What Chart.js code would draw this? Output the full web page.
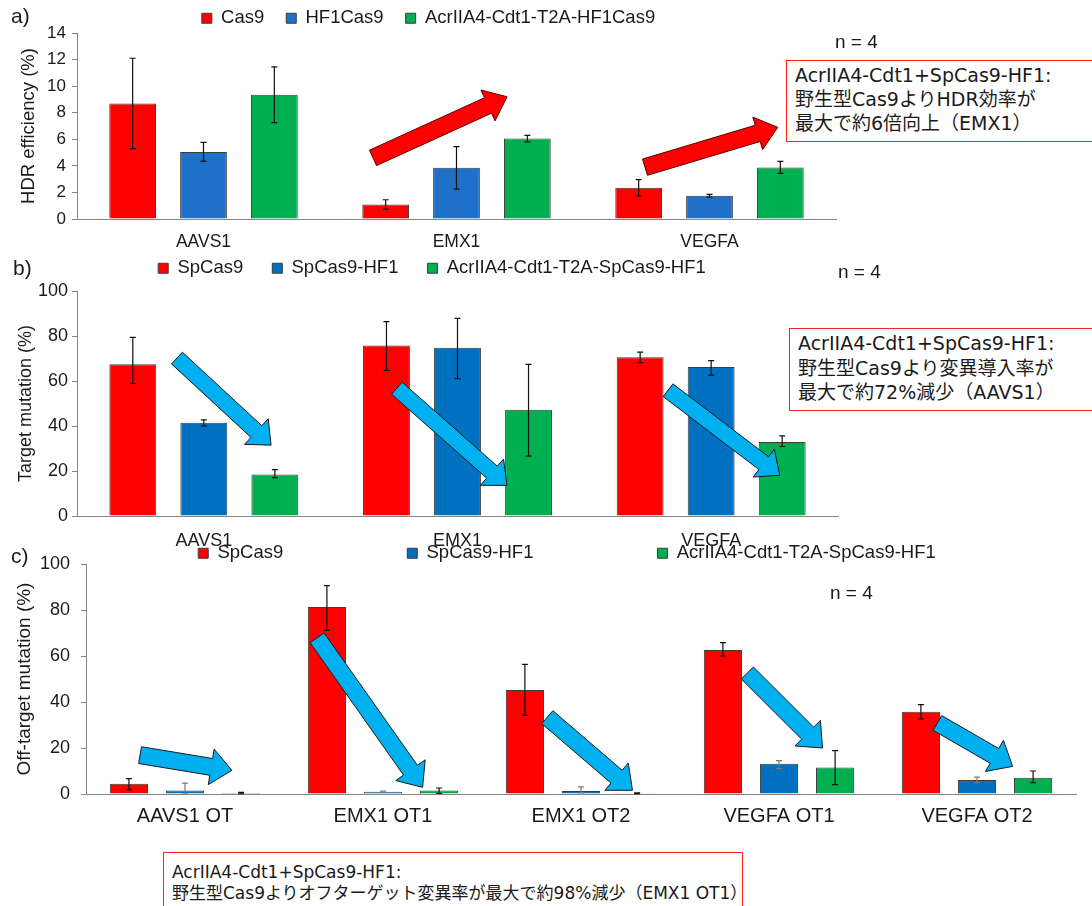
<!DOCTYPE html>
<html><head><meta charset="utf-8">
<script src="https://cdn.jsdelivr.net/npm/chart.js@4.4.1/dist/chart.umd.min.js"></script>
<style>
html,body{margin:0;padding:0;background:#fff;overflow:hidden;}
#wrap{position:relative;width:1092px;height:906px;overflow:hidden;background:#fff;}
canvas{position:absolute;left:0;}
.lbl{position:absolute;font-family:"Liberation Sans",Arial,sans-serif;color:#1a1a1a;white-space:nowrap;}
.box{position:absolute;border:1.5px solid #ff2020;background:#fff;font-family:"DejaVu Sans","Noto Sans CJK JP",sans-serif;color:#1a1a1a;white-space:nowrap;box-sizing:border-box;}
</style></head>
<body><div id="wrap">
<canvas id="ca" width="857" height="272" style="top:-13px"></canvas>
<canvas id="cb" width="864" height="326" style="top:230px"></canvas>
<canvas id="cc" width="1134" height="416" style="top:420px"></canvas>
<div class="lbl" style="left:11px;top:4px;font-size:21px">a)</div>
<div class="lbl" style="left:13px;top:256px;font-size:21px">b)</div>
<div class="lbl" style="left:11px;top:544px;font-size:21px">c)</div>
<div class="lbl" style="left:835px;top:31px;font-size:19px">n = 4</div>
<div class="lbl" style="left:838px;top:261px;font-size:19px">n = 4</div>
<div class="lbl" style="left:830px;top:582px;font-size:19px">n = 4</div>
<div class="box" style="left:786px;top:60px;width:330px;height:82px;font-size:19px;line-height:24px;padding:2px 0 0 8px">AcrIIA4-Cdt1+SpCas9-HF1:<br>野生型Cas9よりHDR効率が<br>最大で約6倍向上（EMX1）</div>
<div class="box" style="left:789px;top:328px;width:330px;height:83px;font-size:19px;line-height:24.5px;padding:2px 0 0 8px">AcrIIA4-Cdt1+SpCas9-HF1:<br>野生型Cas9より変異導入率が<br>最大で約72%減少（AAVS1）</div>
<div class="box" style="left:163px;top:852px;width:580px;height:80px;font-size:17px;line-height:21px;padding:9px 0 0 8px">AcrIIA4-Cdt1+SpCas9-HF1:<br>野生型Cas9よりオフターゲット変異率が最大で約98%減少（EMX1 OT1）</div>
</div>
<script>
// ---------- data ----------
const catsA = ['AAVS1', 'EMX1', 'VEGFA'];
const namesA = ['Cas9', 'HF1Cas9', 'AcrIIA4-Cdt1-T2A-HF1Cas9'];
const aCas9 = [8.7, 1.1, 2.35];
const aCas9Err = [3.4, 0.35, 0.62];
const aHF1 = [5.05, 3.85, 1.75];
const aHF1Err = [0.72, 1.6, 0.1];
const aAcr = [9.35, 6.05, 3.88];
const aAcrErr = [2.1, 0.25, 0.45];
const ticksA = {min: 0, max: 14, step: 2};

const catsB = ['AAVS1', 'EMX1', 'VEGFA'];
const namesB = ['SpCas9', 'SpCas9-HF1', 'AcrIIA4-Cdt1-T2A-SpCas9-HF1'];
const bSp = [67.4, 75.8, 70.6];
const bSpPlus = [12.0, 10.6, 2.2];
const bSpMinus = [8.5, 11.1, 2.4];
const bHF1 = [41.5, 74.8, 66.2];
const bHF1Plus = [1.2, 13.0, 2.9];
const bHF1Minus = [1.4, 13.7, 3.6];
const bAcr = [18.4, 47.2, 32.9];
const bAcrPlus = [2.2, 20.2, 2.7];
const bAcrMinus = [1.3, 20.6, 2.0];
const ticksB = {min: 0, max: 100, step: 20};

const catsC = ['AAVS1 OT', 'EMX1 OT1', 'EMX1 OT2', 'VEGFA OT1', 'VEGFA OT2'];
const namesC = ['SpCas9', 'SpCas9-HF1', 'AcrIIA4-Cdt1-T2A-SpCas9-HF1'];
const cSp = [4.5, 81.3, 45.2, 62.6, 35.8];
const cSpPlus = [2.2, 9.3, 11.2, 3.2, 3.1];
const cSpMinus = [2.6, 10.2, 11.0, 2.6, 3.2];
const cHF1 = [1.5, 1.0, 1.3, 13.1, 6.1];
const cHF1Plus = [3.2, 0.3, 1.8, 1.4, 1.2];
const cHF1Minus = [1.5, 0.3, 0.8, 2.1, 1.2];
const cAcr = [0.4, 1.5, 0.3, 11.5, 7.1];
const cAcrPlus = [0.3, 1.1, 0.2, 7.4, 2.9];
const cAcrMinus = [0.3, 1.2, 0.2, 7.4, 2.2];
const ticksC = {min: 0, max: 100, step: 20};

// arrows: [fromCategoryIndex, fromValue, toCategoryIndex, toValue]
const arrowsA = [[0.67, 4.6, 1.2, 9.2], [1.745, 3.9, 2.27, 6.9]];
const arrowsB = [[-0.106, 70.2, 0.265, 31.5], [0.761, 56.8, 1.195, 13.6], [1.83, 55.9, 2.27, 18.1]];
const arrowsC = [[-0.227, 16.9, 0.237, 10.3], [0.667, 67.9, 1.2, 2.9], [1.83, 33.4, 2.26, 1.6], [2.84, 52.6, 3.22, 20.0], [3.80, 30.9, 4.18, 12.0]];

// ---------- plugins ----------
const errorBars = {
  id: 'errorBars',
  afterDatasetsDraw(chart) {
    const ctx = chart.ctx, ys = chart.scales.y;
    chart.data.datasets.forEach((ds, di) => {
      if (!ds.errPlus) return;
      const meta = chart.getDatasetMeta(di);
      meta.data.forEach((bar, i) => {
        const v = ds.data[i];
        const yt = ys.getPixelForValue(v + ds.errPlus[i]);
        const yb = ys.getPixelForValue(Math.max(0, v - ds.errMinus[i]));
        ctx.save();
        ctx.strokeStyle = ds.errColor || '#111'; ctx.lineWidth = 1.2;
        ctx.beginPath();
        ctx.moveTo(bar.x, yt); ctx.lineTo(bar.x, yb);
        ctx.moveTo(bar.x - 3, yt); ctx.lineTo(bar.x + 3, yt);
        ctx.moveTo(bar.x - 3, yb); ctx.lineTo(bar.x + 3, yb);
        ctx.stroke();
        ctx.restore();
      });
    });
  }
};
const arrowPlugin = {
  id: 'arrows',
  afterDraw(chart, args, opts) {
    if (!opts.items) return;
    const ctx = chart.ctx, xs = chart.scales.x, ys = chart.scales.y;
    opts.items.forEach(a => {
      const x1 = xs.getPixelForValue(a[0]), y1 = ys.getPixelForValue(a[1]);
      const x2 = xs.getPixelForValue(a[2]), y2 = ys.getPixelForValue(a[3]);
      const dx = x2 - x1, dy = y2 - y1, L = Math.hypot(dx, dy);
      const ux = dx / L, uy = dy / L, nx = -uy, ny = ux;
      const s = opts.shaft, h = opts.head, hl = opts.headLen;
      const bx = x2 - ux * hl, by = y2 - uy * hl;
      ctx.save();
      ctx.beginPath();
      ctx.moveTo(x1 + nx * s, y1 + ny * s);
      ctx.lineTo(bx + nx * s, by + ny * s);
      ctx.lineTo(bx + nx * h, by + ny * h);
      ctx.lineTo(x2, y2);
      ctx.lineTo(bx - nx * h, by - ny * h);
      ctx.lineTo(bx - nx * s, by - ny * s);
      ctx.lineTo(x1 - nx * s, y1 - ny * s);
      ctx.closePath();
      ctx.fillStyle = opts.fill; ctx.fill();
      ctx.strokeStyle = opts.stroke; ctx.lineWidth = 1; ctx.stroke();
      ctx.restore();
    });
  }
};
const legendFit = {
  id: 'legendFit',
  beforeLayout(chart, args, opts) {
    const lg = chart.legend;
    if (lg && !lg.__patched) {
      const orig = lg.fit;
      lg.fit = function () { orig.call(this); if (opts.height) { this.height = opts.height; } };
      lg.__patched = true;
    }
  }
};

const FONT = '"Liberation Sans", Arial, sans-serif';
const TXT = '#1a1a1a';
const AX = '#858585';

function makeChart(id, cfg) {
  const ds = cfg.series.map((s, i) => ({
    label: cfg.names[i], data: s.v, errPlus: s.p, errMinus: s.m,
    errColor: cfg.errColors ? cfg.errColors[i] : '#111',
    backgroundColor: cfg.colors[i], borderColor: '#3c3c3c', borderWidth: 1,
    categoryPercentage: cfg.cp, barPercentage: cfg.bp
  }));
  return new Chart(document.getElementById(id), {
    type: 'bar',
    data: {labels: cfg.cats, datasets: ds},
    plugins: [errorBars, arrowPlugin, legendFit],
    options: {
      responsive: false, animation: false, devicePixelRatio: 1,
      layout: {padding: 0},
      plugins: {
        tooltip: {enabled: false},
        legend: {
          position: 'top', align: 'center',
          labels: {boxWidth: 10, boxHeight: 10, padding: cfg.legPad, color: TXT,
                   font: {family: FONT, size: cfg.legFont}}
        },
        legendFit: {height: cfg.legHeight},
        arrows: {items: cfg.arrows, fill: cfg.arrowFill, stroke: cfg.arrowStroke,
                 shaft: cfg.shaft, head: cfg.head, headLen: cfg.headLen}
      },
      scales: {
        x: {
          grid: {display: false, drawTicks: false},
          border: {display: true, color: AX, width: 1},
          ticks: {color: TXT, padding: cfg.xPad, font: {family: FONT, size: cfg.xFont}, maxRotation: 0, autoSkip: false},
          afterFit: sc => { sc.height = cfg.xHeight; }
        },
        y: {
          min: cfg.ticks.min, max: cfg.ticks.max,
          grid: {display: true, drawOnChartArea: false, drawTicks: true, tickLength: 5, color: AX},
          border: {display: true, color: AX, width: 1},
          ticks: {stepSize: cfg.ticks.step, color: TXT, padding: cfg.yPad, font: {family: FONT, size: cfg.yFont}},
          title: {display: true, text: cfg.yTitle, color: TXT, padding: {top: cfg.titlePad, bottom: 0},
                  font: {family: FONT, size: cfg.titleFont}},
          afterFit: sc => { sc.width = cfg.yWidth; }
        },
        gap: {
          position: 'right', display: true,
          grid: {display: false, drawTicks: false}, border: {display: false},
          ticks: {display: false},
          afterFit: sc => { sc.width = cfg.rightGap; }
        }
      }
    }
  });
}

makeChart('ca', {
  cats: catsA, names: namesA,
  series: [{v: aCas9, p: aCas9Err, m: aCas9Err}, {v: aHF1, p: aHF1Err, m: aHF1Err}, {v: aAcr, p: aAcrErr, m: aAcrErr}],
  colors: ['#ff0000', '#1f70c8', '#00b050'], cp: 0.84, bp: 0.66,
  rightGap: 21, legPad: 22, legFont: 18.5, legHeight: 46,
  arrows: arrowsA, arrowFill: '#ff0000', arrowStroke: '#5a0000', shaft: 8.5, head: 17, headLen: 21,
  xPad: 13, xFont: 17.5, xHeight: 40, yPad: 6, yFont: 17, yTitle: 'HDR efficiency (%)',
  titlePad: 18, titleFont: 18.5, yWidth: 77, ticks: ticksA
});
makeChart('cb', {
  cats: catsB, names: namesB,
  series: [{v: bSp, p: bSpPlus, m: bSpMinus}, {v: bHF1, p: bHF1Plus, m: bHF1Minus}, {v: bAcr, p: bAcrPlus, m: bAcrMinus}],
  colors: ['#ff0000', '#0070c0', '#00b050'], cp: 0.84, bp: 0.66,
  rightGap: 26, legPad: 29, legFont: 18.5, legHeight: 61,
  arrows: arrowsB, arrowFill: '#00b0f0', arrowStroke: '#1a1a1a', shaft: 8, head: 17.5, headLen: 20,
  xPad: 14, xFont: 18, xHeight: 40, yPad: 4, yFont: 18, yTitle: 'Target mutation (%)',
  titlePad: 15, titleFont: 18, yWidth: 77, ticks: ticksB
});
makeChart('cc', {
  cats: catsC, names: namesC,
  series: [{v: cSp, p: cSpPlus, m: cSpMinus}, {v: cHF1, p: cHF1Plus, m: cHF1Minus}, {v: cAcr, p: cAcrPlus, m: cAcrMinus}],
  colors: ['#ff0000', '#0070c0', '#00b050'], errColors: ['#111', '#7a7a7a', '#111'], cp: 0.85, bp: 0.68,
  rightGap: 58, legPad: 124, legFont: 18.5, legHeight: 144,
  arrows: arrowsC, arrowFill: '#00b0f0', arrowStroke: '#1a1a1a', shaft: 8.5, head: 18, headLen: 21,
  xPad: 10, xFont: 20, xHeight: 42, yPad: 11, yFont: 18, yTitle: 'Off-target mutation (%)',
  titlePad: 13, titleFont: 19, yWidth: 86, ticks: ticksC
});
</script>
</body></html>
